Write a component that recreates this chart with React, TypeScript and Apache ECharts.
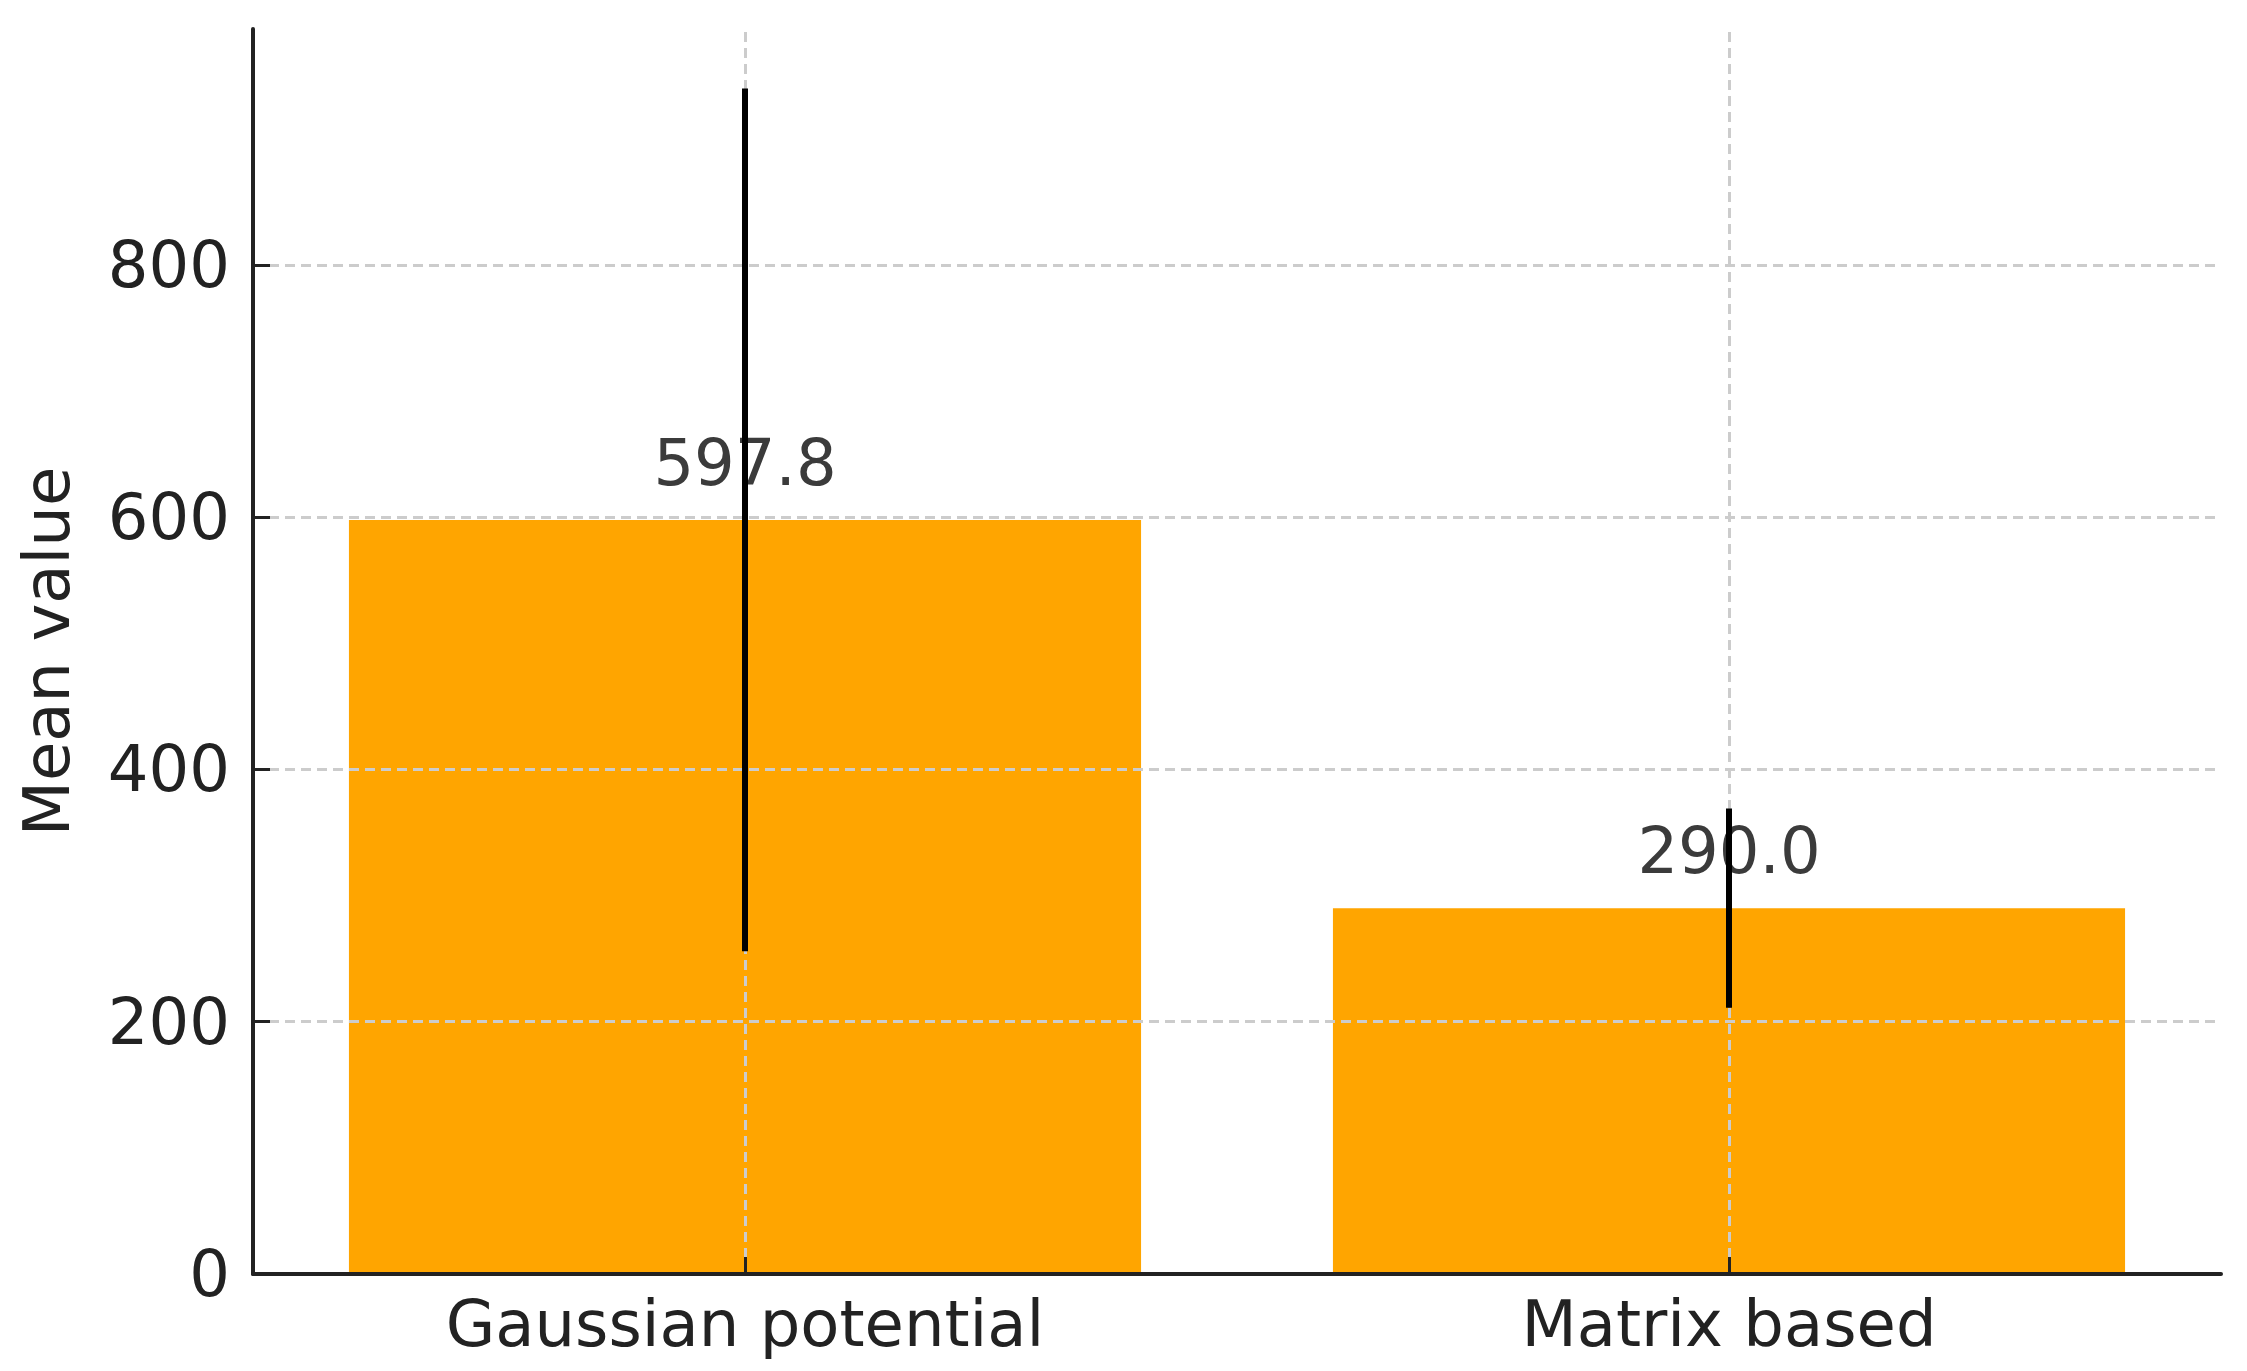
import { useEffect, useRef } from "react";
import * as echarts from "echarts";

const categories = ["Gaussian potential", "Matrix based"];
const meanValues = [597.8, 290.0];
const errorValues = [342, 79];
const yTicks = [0, 200, 400, 600, 800];

const FONT = "DejaVu Sans";
const GRID_STYLE = { color: "#cccccc", width: 3, type: [10, 6] };

export default function App() {
  const ref = useRef<HTMLDivElement | null>(null);

  useEffect(() => {
    document.body.style.margin = "0";
    if (!ref.current) {
      return;
    }
    const chart = echarts.init(ref.current, null, { renderer: "svg" });

    const errorData = meanValues.map((v, i) => [i, v - errorValues[i], v + errorValues[i]]);

    // gridlines drawn above the bars, like the source plot
    const gridMarks = [
      ...categories.map((c) => ({ xAxis: c })),
      ...yTicks.filter((v) => v > 0).map((v) => ({ yAxis: v }))
    ];

    chart.setOption({
      animation: false,
      backgroundColor: "#ffffff",
      grid: { left: 253, right: 26, top: 29, bottom: 97 },
      xAxis: {
        type: "category",
        data: categories,
        z: 10,
        axisLine: { lineStyle: { color: "#222", width: 4 } },
        axisTick: {
          show: true,
          inside: true,
          alignWithLabel: true,
          length: 17,
          lineStyle: { color: "#222", width: 3 }
        },
        axisLabel: {
          fontFamily: FONT,
          fontSize: 64,
          color: "#222",
          margin: 18
        },
        splitLine: { show: false }
      },
      yAxis: {
        type: "value",
        min: 0,
        max: 987,
        interval: 200,
        z: 10,
        name: "Mean value",
        nameLocation: "middle",
        nameGap: 174,
        nameTextStyle: { fontFamily: FONT, fontSize: 64, color: "#222" },
        axisLine: { show: true, lineStyle: { color: "#222", width: 4 } },
        axisTick: {
          show: true,
          inside: true,
          length: 17,
          lineStyle: { color: "#222", width: 3 }
        },
        axisLabel: {
          fontFamily: FONT,
          fontSize: 64,
          color: "#222",
          margin: 23,
          showMaxLabel: false,
          formatter: (v: number) => (yTicks.includes(v) ? String(v) : "")
        },
        splitLine: { show: false }
      },
      series: [
        {
          type: "bar",
          data: meanValues,
          barCategoryGap: "19.5%",
          z: 1,
          itemStyle: { color: "#FFA500" },
          label: {
            show: true,
            position: "top",
            distance: 25,
            fontFamily: FONT,
            fontSize: 64,
            color: "#3b3b3b",
            formatter: (p: any) => Number(p.value).toFixed(1)
          },
          markLine: {
            silent: true,
            symbol: "none",
            label: { show: false },
            lineStyle: GRID_STYLE,
            data: gridMarks
          }
        },
        {
          type: "custom",
          z: 20,
          data: errorData,
          renderItem: (_params: any, api: any) => {
            const x = api.value(0);
            const lo = api.coord([x, api.value(1)]);
            const hi = api.coord([x, api.value(2)]);
            return {
              type: "line",
              shape: { x1: lo[0], y1: lo[1], x2: hi[0], y2: hi[1] },
              style: { stroke: "#000", lineWidth: 6 }
            };
          }
        }
      ]
    });

    return () => {
      chart.dispose();
    };
  }, []);

  return <div ref={ref} style={{ width: 2247, height: 1371 }} />;
}
